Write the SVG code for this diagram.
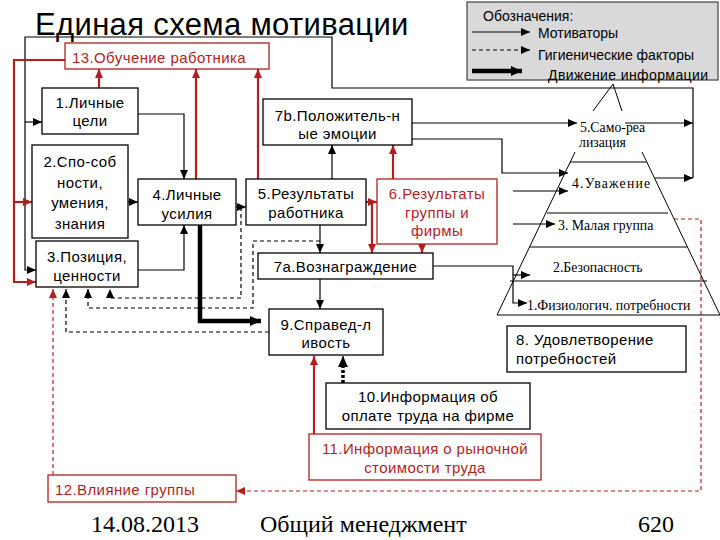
<svg xmlns="http://www.w3.org/2000/svg" width="720" height="540" viewBox="0 0 720 540">
<defs>
<style>
.bx{fill:#fff;stroke:#000;stroke-width:1.3}
.rb{fill:#fff;stroke:#b41e1e;stroke-width:1.3}
.t{font-family:"Liberation Sans",Arial,sans-serif;font-size:15px;letter-spacing:0.4px;fill:#000;text-anchor:middle}
.tr{font-family:"Liberation Sans",Arial,sans-serif;font-size:15px;letter-spacing:0.4px;fill:#b41e1e;text-anchor:middle}
.s{font-family:"Liberation Serif","Times New Roman",serif;font-size:13.8px;fill:#000}
.lg{font-family:"Liberation Sans",Arial,sans-serif;font-size:14px;fill:#000}
.c{fill:none;stroke:#000;stroke-width:1.2}
.d{fill:none;stroke:#000;stroke-width:1.2;stroke-dasharray:4,3}
.r{fill:none;stroke:#b41e1e;stroke-width:2.2}
.rd{fill:none;stroke:#b41e1e;stroke-width:1.2;stroke-dasharray:4,3}
.k{fill:none;stroke:#000;stroke-width:4.5}
.p{fill:none;stroke:#000;stroke-width:1}
</style>
<marker id="ab" markerUnits="userSpaceOnUse" markerWidth="9" markerHeight="8" refX="9" refY="4" orient="auto"><path d="M0,0 L9,4 L0,8 z" fill="#000"/></marker>
<marker id="ar" markerUnits="userSpaceOnUse" markerWidth="9" markerHeight="8" refX="9" refY="4" orient="auto"><path d="M0,0 L9,4 L0,8 z" fill="#b41e1e"/></marker>
<marker id="ak" markerUnits="userSpaceOnUse" markerWidth="11" markerHeight="10" refX="11" refY="5" orient="auto"><path d="M0,0 L11,5 L0,10 z" fill="#000"/></marker>
</defs>
<rect width="720" height="540" fill="#fff"/>
<text x="35" y="35" font-family="'Liberation Sans',Arial,sans-serif" font-size="31" letter-spacing="0.35">Единая схема мотивации</text>

<g id="legend">
<rect x="467" y="2" width="251" height="78" fill="#d9d9d9" stroke="#444" stroke-width="1.2"/>
<text class="lg" x="483" y="21">Обозначения:</text>
<path class="c" d="M472,32 H530" marker-end="url(#ab)"/>
<text class="lg" x="538" y="38">Мотиваторы</text>
<path class="d" d="M472,50 H530" marker-end="url(#ab)"/>
<text class="lg" x="538" y="60">Гигиенические факторы</text>
<path class="k" d="M472,71 H522" marker-end="url(#ak)"/>
<text class="lg" x="548" y="80" letter-spacing="0.4">Движение информации</text>
</g>

<g id="connectors">
<path class="c" d="M693,178 V88 H332 V37 H25 V270 H36" marker-end="url(#ab)"/>
<path class="c" d="M25,122 H42" marker-end="url(#ab)"/>
<path class="c" d="M625,123 H693" marker-end="url(#ab)"/>
<path class="c" d="M655,178 H693" marker-end="url(#ab)"/>
<path class="c" d="M138,114 H184 V179" marker-end="url(#ab)"/>
<path class="c" d="M128,202 H138" marker-end="url(#ab)"/>
<path class="c" d="M138,270 H184 V225" marker-end="url(#ab)"/>
<path class="c" d="M236,207 H246" marker-end="url(#ab)"/>
<path class="c" d="M320,225 V253" marker-end="url(#ab)"/>
<path class="c" d="M332,179 V145" marker-end="url(#ab)"/>
<path class="c" d="M412,123 H577" marker-end="url(#ab)"/>
<path class="c" d="M412,139 H502 V173 H568" marker-end="url(#ab)"/>
<path class="c" d="M433,266 H513 V303 H527" marker-end="url(#ab)"/>
<path class="c" d="M513,191 H568" marker-end="url(#ab)"/>
<path class="c" d="M513,224 H555" marker-end="url(#ab)"/>
<path class="c" d="M513,275 H530" marker-end="url(#ab)"/>
<path class="c" d="M320,279 V309" stroke-width="2" marker-end="url(#ab)"/>
<path class="d" d="M241,207 V298 H110 V289" marker-end="url(#ab)"/>
<path class="d" d="M320,241 H253 V308 H88 V289" marker-end="url(#ab)"/>
<path class="d" d="M269,332 H66 V289" marker-end="url(#ab)"/>
<path class="k" d="M200,225 V321 H261" marker-end="url(#ak)"/>
<path d="M343,383 V364" fill="none" stroke="#000" stroke-width="3.5" stroke-dasharray="3,2"/>
<path class="c" d="M343,366 V356" marker-end="url(#ak)"/>
<path class="r" d="M99,88 V69" marker-end="url(#ar)"/>
<path class="r" d="M196,179 V69" marker-end="url(#ar)"/>
<path class="r" d="M258,179 V69" marker-end="url(#ar)"/>
<path class="r" d="M65,60 H14 V282 H36" stroke-width="1.5" marker-end="url(#ar)"/>
<path class="r" d="M14,202 H32" stroke-width="1.5" marker-end="url(#ar)"/>
<path class="r" d="M366,202 H377" stroke-width="1.5" marker-end="url(#ar)"/>
<path class="r" d="M372,202 V253" marker-end="url(#ar)"/>
<path class="r" d="M393,179 V145" stroke-width="2.6" marker-end="url(#ar)"/>
<path class="r" d="M422,244 V253" marker-end="url(#ar)"/>
<path class="r" d="M314,434 V356" stroke-width="2.6" marker-end="url(#ar)"/>
<path class="rd" d="M674,219 H701 V491 H236" marker-end="url(#ar)"/>
<path class="rd" d="M53,475 V289" marker-end="url(#ar)"/>
</g>

<g id="n13"><rect class="rb" x="65" y="43" width="204" height="26"/><text class="tr" x="72" y="63" style="text-anchor:start">13.Обучение работника</text></g>
<g id="n1"><rect class="bx" x="42" y="88" width="96" height="46"/><text class="t" x="90" y="108">1.Личные</text><text class="t" x="90" y="126">цели</text></g>
<g id="n2"><rect class="bx" x="32" y="145" width="96" height="93"/><text class="t" x="80" y="167">2.Спо-соб</text><text class="t" x="80" y="188">ности,</text><text class="t" x="80" y="208">умения,</text><text class="t" x="80" y="229">знания</text></g>
<g id="n3"><rect class="bx" x="36" y="241" width="102" height="46"/><text class="t" x="87" y="262">3.Позиция,</text><text class="t" x="87" y="281">ценности</text></g>
<g id="n4"><rect class="bx" x="138" y="179" width="98" height="46"/><text class="t" x="187" y="200">4.Личные</text><text class="t" x="187" y="219">усилия</text></g>
<g id="n5"><rect class="bx" x="246" y="179" width="120" height="46"/><text class="t" x="306" y="199">5.Результаты</text><text class="t" x="306" y="218">работника</text></g>
<g id="n6"><rect class="rb" x="377" y="179" width="120" height="65"/><text class="tr" x="437" y="199">6.Результаты</text><text class="tr" x="437" y="218">группы и</text><text class="tr" x="437" y="236">фирмы</text></g>
<g id="n7b"><rect class="bx" x="263" y="99" width="149" height="46"/><text class="t" x="337.5" y="121">7b.Положитель-н</text><text class="t" x="337.5" y="139">ые эмоции</text></g>
<g id="n7a"><rect class="bx" x="258" y="253" width="175" height="26"/><text class="t" x="345.5" y="272">7a.Вознаграждение</text></g>
<g id="n9"><rect class="bx" x="269" y="309" width="114" height="46"/><text class="t" x="326" y="330">9.Справед-л</text><text class="t" x="326" y="348">ивость</text></g>
<g id="n10"><rect class="bx" x="326" y="383" width="204" height="46"/><text class="t" x="428" y="402">10.Информация об</text><text class="t" x="428" y="421">оплате труда на фирме</text></g>
<g id="n11"><rect class="rb" x="309" y="434" width="232" height="46"/><text class="tr" x="425" y="454">11.Информация о рыночной</text><text class="tr" x="425" y="473">стоимости труда</text></g>
<g id="n12"><rect class="rb" x="48" y="475" width="188" height="27"/><text class="tr" x="55" y="495" style="text-anchor:start">12.Влияние группы</text></g>
<g id="n8"><rect class="bx" x="507" y="326" width="179" height="46"/><text class="t" x="516" y="345" style="text-anchor:start">8. Удовлетворение</text><text class="t" x="516" y="364" style="text-anchor:start">потребностей</text></g>

<g id="pyramid">
<path class="p" d="M613,84 L593,111 M613,84 L622,111"/>
<path class="p" d="M575,152 L497,315 M642,152 L720,315"/>
<path class="p" d="M570,162 H647 M547,213 H668 M530,247 H687 M510,281 H707 M497,315 H720"/>
<text class="s" x="580" y="132">5.Само-реа</text>
<text class="s" x="579" y="147">лизация</text>
<text class="s" x="572" y="188" letter-spacing="1.2">4.Уважение</text>
<text class="s" x="558" y="230">3. Малая группа</text>
<text class="s" x="553" y="272">2.Безопасность</text>
<text class="s" x="527" y="310">1.Физиологич. потребности</text>
</g>

<g id="footer" font-family="'Liberation Serif','Times New Roman',serif" font-size="24">
<text x="91" y="532">14.08.2013</text>
<text x="260" y="532">Общий менеджмент</text>
<text x="638" y="532">620</text>
</g>
</svg>
